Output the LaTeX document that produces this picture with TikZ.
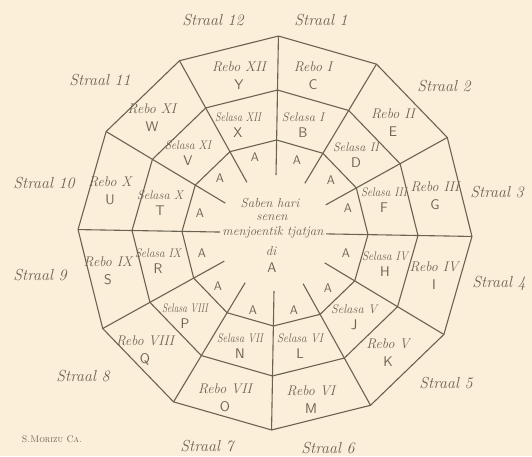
\documentclass[tikz,border=0pt]{standalone}
\usepackage{graphicx}
\definecolor{bgc}{HTML}{FCEFD9}
\definecolor{ink}{HTML}{6B6352}
\newsavebox\fitbox
\newcommand\fitw[2]{\sbox\fitbox{#2}\ifdim\wd\fitbox>#1\relax\resizebox{#1}{\height}{\usebox\fitbox}\else\usebox\fitbox\fi}
\begin{document}
\begin{tikzpicture}[x=1pt,y=-1pt,
  edge/.style={draw=ink, line width=1.1pt, line join=round},
  straal/.style={text=ink, inner sep=0pt, font=\fontsize{16}{18}\selectfont\itshape},
  rebolbl/.style={text=ink, inner sep=0pt, font=\fontsize{14}{15}\selectfont\itshape},
  selasalbl/.style={text=ink, inner sep=0pt, font=\fontsize{12.5}{14}\selectfont\itshape},
  letterlbl/.style={text=ink, inner sep=0pt, font=\fontsize{14}{15}\selectfont\sffamily},
  alabel/.style={text=ink, inner sep=0pt, font=\fontsize{12.5}{14}\selectfont\sffamily},
  centertxt/.style={text=ink, inner sep=0pt, font=\fontsize{13}{14}\selectfont\itshape},
  credit/.style={text=ink, inner sep=0pt, font=\fontsize{9.5}{10}\selectfont\scshape}]
\fill[bgc] (0,0) rectangle (532,456);
\useasboundingbox (0,0) rectangle (532,456);
% geometry
\begin{scope}[shift={(275,233)}]
\foreach \k in {0,...,11}{
  \pgfmathsetmacro\ang{30*\k-89}
  \coordinate (o\k) at (\ang:197);
  \coordinate (m\k) at (\ang:143);
  \coordinate (n\k) at (\ang:93);
  \coordinate (e\k) at (\ang:58);
}
\end{scope}
% polygons
\draw[edge] (o0) \foreach \k in {1,...,11}{ -- (o\k) } -- cycle;
\draw[edge] (m0) \foreach \k in {1,...,11}{ -- (m\k) } -- cycle;
\draw[edge] (n0) \foreach \k in {1,...,11}{ -- (n\k) } -- cycle;
% rays
\foreach \k in {0,...,11}{ \draw[edge] (o\k) -- (e\k); }
\draw[edge] (e3) -- (e9);
% Rebo labels
\foreach \x/\y/\nm/\lt [count=\i] in {313/76/I/C, 393/123/II/E, 435/196/III/G, 434/276/IV/I,
   388/353/V/K, 311/400/VI/M, 225/398/VII/O, 145/350/VIII/Q, 108/271/IX/S, 110/191/X/U,
   152/118/XI/W, 239/76/XII/Y}{
  \node[rebolbl] (rn\i) at (\x,\y-9) {\fitw{58pt}{Rebo \nm}};
  \node[letterlbl] (rl\i) at (\x,\y+9) {\lt};
}
% Selasa labels
\foreach \x/\y/\nm/\lt [count=\i] in {303/125/I/B, 356/155/II/D, 384/200/III/F, 385/264/IV/H,
   354/317/V/J, 300/346/VI/L, 240/346/VII/N, 185/316/VIII/P, 158/261/IX/R, 160/203/X/T,
   188/153/XI/V, 238/125/XII/X}{
  \node[selasalbl] (sn\i) at (\x,\y-8) {\fitw{46pt}{Selasa \nm}};
  \node[letterlbl] (sl\i) at (\x,\y+8) {\lt};
}
% A labels
\foreach \x/\y [count=\i] in {297/160, 331/180, 348/208, 346/253, 328/288, 294/310,
   253/310, 218/286, 202/253, 200/213, 220/178, 255/157}{
  \node[alabel] (a\i) at (\x,\y) {A};
}
% Straal labels
\foreach \x/\y [count=\i] in {321/20, 444/86, 497/192, 499/283, 446/383, 328/448,
   207/446, 83/376, 40/275, 44/183, 100/80, 213/20}{
  \node[straal] (st\i) at (\x,\y) {Straal \i};
}
% center text
\node[centertxt] (c1) at (270,203) {Saben hari};
\node[centertxt] (c2) at (272,218) {senen};
\node[centertxt, fill=bgc, inner xsep=2pt, anchor=base] (c3) at (273,235) {menjoentik tjatjan};
\node[centertxt] (c4) at (271,251) {di};
\node[alabel, font=\fontsize{14}{15}\selectfont\sffamily] (c5) at (272,268) {A};
% credit
\node[credit] (cr) at (52,439) {\fitw{60pt}{S.Morizu Ca.}};
\end{tikzpicture}
\end{document}
